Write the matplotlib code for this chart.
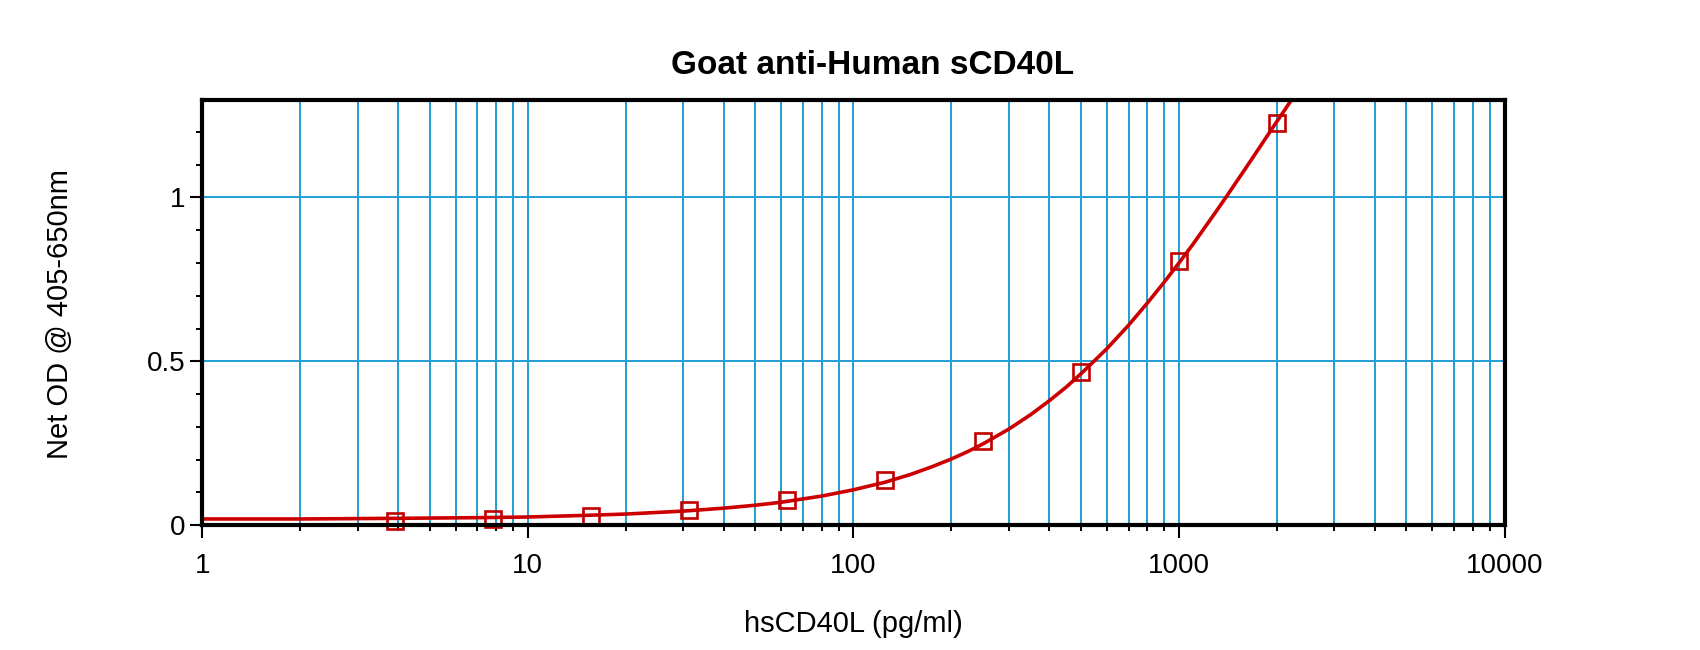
import matplotlib
matplotlib.use("Agg")
import matplotlib.pyplot as plt
from matplotlib.ticker import LogLocator, FuncFormatter, NullFormatter, MultipleLocator

# standards (pg/ml) and measured net OD
std_conc = [3.9, 7.8, 15.6, 31.25, 62.5, 125, 250, 500, 1000, 2000]
std_od = [0.013, 0.020, 0.028, 0.046, 0.078, 0.138, 0.258, 0.466, 0.806, 1.228]

# fitted curve
curve_x = [1, 2, 4, 7, 10, 15, 20, 30, 40, 50, 60, 80, 100, 125, 150, 175, 200,
           225, 250, 300, 350, 400, 450, 500, 600, 700, 800, 900, 1000, 1100,
           1200, 1300, 1400, 1500, 1600, 1700, 1800, 1900, 2000, 2100, 2200, 2300]
curve_y = [0.019, 0.019, 0.021, 0.023, 0.025, 0.030, 0.034, 0.043, 0.052, 0.061,
           0.070, 0.089, 0.108, 0.131, 0.155, 0.179, 0.202, 0.225, 0.248, 0.293,
           0.337, 0.380, 0.421, 0.462, 0.538, 0.610, 0.678, 0.741, 0.800, 0.855,
           0.908, 0.957, 1.003, 1.047, 1.088, 1.127, 1.164, 1.199, 1.232, 1.263,
           1.293, 1.321]

title = "Goat anti-Human sCD40L"
xlabel = "hsCD40L (pg/ml)"
ylabel = "Net OD @ 405-650nm"

plt.rcParams['font.family'] = ['Liberation Sans', 'DejaVu Sans']

fig = plt.figure(figsize=(17, 6.5), dpi=100)
ax = fig.add_axes([0.119, 0.192, 0.766, 0.654])

grid_col = "#1E9FD4"
red = "#CC0000"

ax.set_xscale("log")
ax.set_xlim(1, 10000)
ax.set_ylim(0, 1.297)

ax.xaxis.set_major_locator(LogLocator(base=10))
ax.xaxis.set_minor_locator(LogLocator(base=10, subs=range(2, 10)))
ax.xaxis.set_major_formatter(FuncFormatter(lambda v, p: f"{v:g}"))
ax.xaxis.set_minor_formatter(NullFormatter())
ax.yaxis.set_major_locator(MultipleLocator(0.5))
ax.yaxis.set_minor_locator(MultipleLocator(0.1))
ax.yaxis.set_major_formatter(FuncFormatter(lambda v, p: f"{v:g}"))

ax.grid(True, which="both", axis="x", color=grid_col, lw=1.4)
ax.grid(True, which="major", axis="y", color=grid_col, lw=1.4)
ax.set_axisbelow(True)

ax.plot(curve_x, curve_y, color=red, lw=2.6, zorder=3)
ax.plot(std_conc, std_od, ls="none", marker="s", ms=11.5, mfc="none",
        mec="#C00000", mew=1.9, zorder=4, clip_on=False)

for s in ax.spines.values():
    s.set_linewidth(3)
    s.set_color("black")
    s.set_zorder(5)

ax.tick_params(axis="both", which="major", direction="out", length=9,
               width=1.5, labelsize=20)
ax.tick_params(axis="both", which="minor", direction="out", length=4, width=1.4)
ax.tick_params(axis="x", which="major", pad=11)
ax.tick_params(axis="y", which="major", pad=3)

fig.text(0.513, 0.900, title, ha="center", va="center", fontsize=24,
         fontweight="bold")
fig.text(0.502, 0.040, xlabel, ha="center", va="center", fontsize=21)
fig.text(0.035, 0.517, ylabel, ha="center", va="center", rotation=90, fontsize=21)

fig.savefig("out.png", dpi=100)
